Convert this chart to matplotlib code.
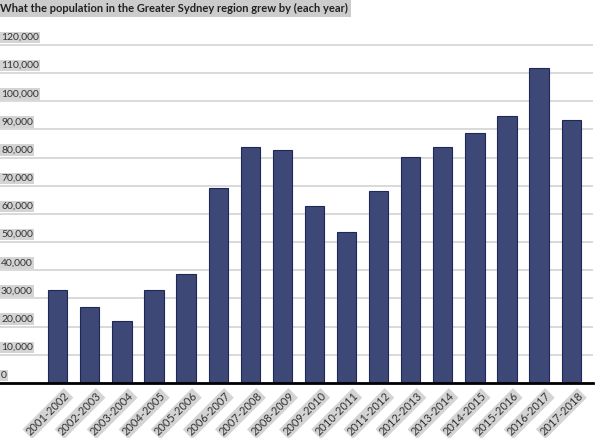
import matplotlib
matplotlib.use("Agg")
import matplotlib.pyplot as plt
import matplotlib.transforms as mtransforms

years = ["2001-2002", "2002-2003", "2003-2004", "2004-2005", "2005-2006", "2006-2007",
         "2007-2008", "2008-2009", "2009-2010", "2010-2011", "2011-2012", "2012-2013",
         "2013-2014", "2014-2015", "2015-2016", "2016-2017", "2017-2018"]
growth = [32900, 26900, 22000, 32900, 38700, 69300, 83800, 82700, 63000, 53600,
          68200, 80300, 83800, 88800, 94800, 111900, 93300]
yticks = [0, 10000, 20000, 30000, 40000, 50000, 60000, 70000, 80000, 90000,
          100000, 110000, 120000]
title = "What the population in the Greater Sydney region grew by (each year)"

plt.rcParams['font.family'] = ['Lato', 'DejaVu Sans']

W, H = 600, 438
fig = plt.figure(figsize=(W / 100, H / 100), dpi=100)
ax_bottom_px = 383
ax_top_px = 40
ax = fig.add_axes([0, 1 - ax_bottom_px / H, 593 / W, (ax_bottom_px - ax_top_px) / H])

x = list(range(len(years)))
ax.bar(x, growth, width=0.6, color='#3d4877', edgecolor='#1e2858', linewidth=0.8, zorder=3)

ax.set_xlim(-1.8, 16.68)
ax.set_ylim(0, 121775)

for s in ['top', 'right', 'left']:
    ax.spines[s].set_visible(False)
ax.spines['bottom'].set_color('black')
ax.spines['bottom'].set_linewidth(2)
ax.spines['bottom'].set_zorder(4)

ax.set_yticks(yticks)
ax.set_yticklabels([])
ax.tick_params(axis='y', length=0)
ax.yaxis.grid(True, color='#cfcfcf', linewidth=1.1, zorder=0)

trans = mtransforms.blended_transform_factory(ax.transAxes, ax.transData)
offset = mtransforms.ScaledTranslation(1 / 100, 3 / 100, fig.dpi_scale_trans)
for v in yticks:
    ax.text(0.0, v, f"{v:,}", transform=trans + offset, ha='left', va='bottom',
            fontsize=7.5, color='#333333',
            bbox=dict(boxstyle='square,pad=0.12', facecolor='#d4d4d4', edgecolor='none'))

ax.set_xticks(x)
ax.set_xticklabels(years, rotation=45, ha='right', rotation_mode='anchor',
                   fontsize=8, color='#333333',
                   bbox=dict(boxstyle='square,pad=0.12', facecolor='#d4d4d4', edgecolor='none'))
ax.tick_params(axis='x', length=0, pad=5)
lab_off = mtransforms.ScaledTranslation(6 / 100, 0, fig.dpi_scale_trans)
for lab in ax.get_xticklabels():
    lab.set_transform(lab.get_transform() + lab_off)

fig.text(0.0, 1 - 3 / H, title, ha='left', va='top', fontsize=8, fontweight='bold',
         color='#222222',
         bbox=dict(boxstyle='square,pad=0.25', facecolor='#cccccc', edgecolor='none'))

fig.savefig('out.png', dpi=100)
